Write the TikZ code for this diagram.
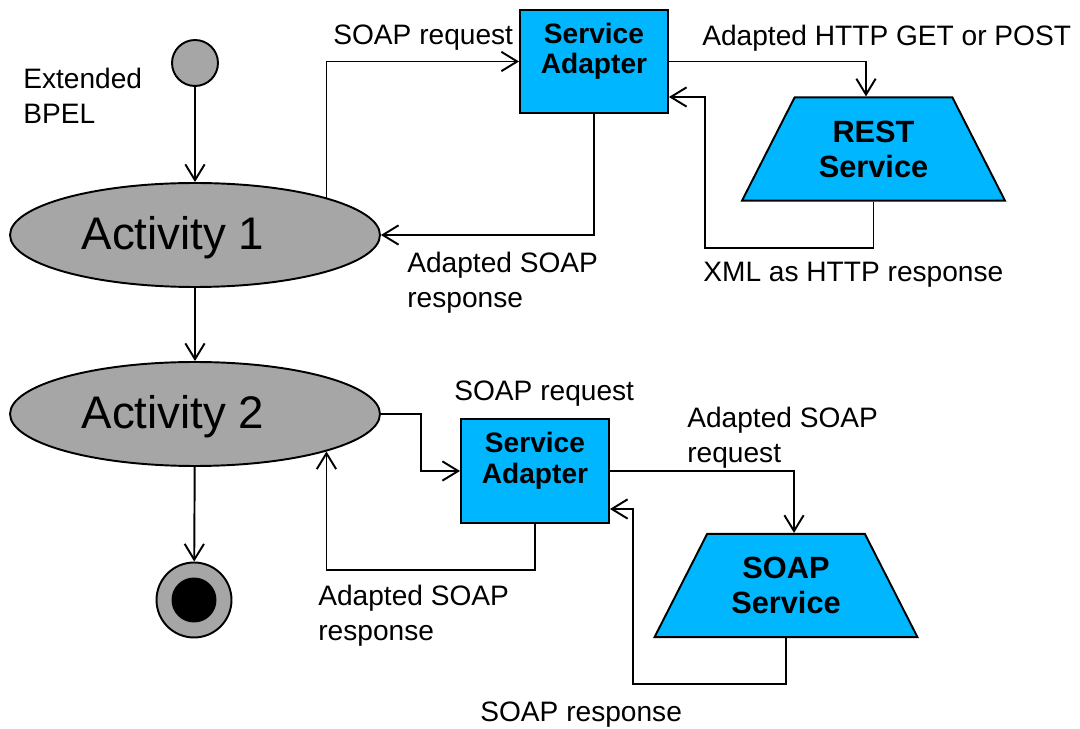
\documentclass[tikz,border=0pt]{standalone}
\usepackage{fontspec}
\setmainfont{Liberation Sans}
\usetikzlibrary{arrows.meta,shapes.geometric}
\definecolor{adblue}{RGB}{0,183,255}
\definecolor{actgray}{RGB}{166,166,166}

\begin{document}
\begin{tikzpicture}[x=0.02cm, y=-0.02cm,
    act/.style={draw, ellipse, fill=actgray, line width=1.1pt, minimum width=7.4cm, minimum height=2.08cm, inner sep=0pt},
    acttxt/.style={font=\fontsize{26}{30}\selectfont, xshift=-0.44cm, yshift=-0.05cm, inner sep=0pt},
    adapter/.style={draw, rectangle, fill=adblue, line width=1.1pt, minimum width=2.96cm, minimum height=2.07cm, inner sep=0pt},
    adtxt/.style={anchor=north, yshift=-0.27cm, align=center, inner sep=0pt, font=\fontsize{16}{17.6}\selectfont\bfseries},
    svc/.style={draw, trapezium, trapezium left angle=63, trapezium right angle=63, trapezium stretches body, fill=adblue, line width=1.1pt, minimum width=5.26cm, inner xsep=0pt, inner ysep=13.2pt, align=center, font=\fontsize{17.5}{20}\selectfont\bfseries},
    arr/.style={-{Straight Barb[length=9pt,width=11pt]}, line width=1.1pt},
    lbl/.style={anchor=north west, inner sep=0pt, align=left, font=\fontsize{16}{20}\selectfont}
]
\useasboundingbox (0,0) rectangle (1080,729);

% activities
\node[circle, draw, fill=actgray, line width=1.1pt, minimum size=0.92cm, inner sep=0pt] (start) at (195,63) {};
\node[act, label={[acttxt]center:Activity 1}] (act1) at (195,235) {};
\node[act, label={[acttxt]center:Activity 2}] (act2) at (195,414) {};
\node[circle, draw, fill=actgray, line width=1.1pt, minimum size=1.5cm, inner sep=0pt,
      label={[circle, fill=black, minimum size=0.9cm, inner sep=0pt]center:{}}] (stop) at (194,600) {};

% adapters and services
\node[adapter, label={[adtxt]north:Service\\Adapter}] (sa1) at (594,61.5) {};
\node[adapter, label={[adtxt]north:Service\\Adapter}] (sa2) at (535,471) {};
\node[svc] (rest) at (873.5,149) {REST\\Service};
\node[svc] (soap) at (786,585.5) {SOAP\\Service};

% labels
\node[lbl] (bpel) at (23,68) {Extended\\BPEL};
\node[lbl] (req1) at (333,25) {SOAP request};
\node[lbl] (get) at (702,25) {Adapted HTTP GET or POST};
\node[lbl] (resp1) at (407,252) {Adapted SOAP\\response};
\node[lbl] (xml) at (703,262) {XML as HTTP response};
\node[lbl] (req2) at (454,381) {SOAP request};
\node[lbl] (req3) at (687,407) {Adapted SOAP\\request};
\node[lbl] (resp2) at (318,585) {Adapted SOAP\\response};
\node[lbl] (resp3) at (480,702) {SOAP response};

% flow
\draw[arr] (start) -- (act1);
\draw[arr] (act1) -- (act2);
\draw[arr] (act2) -- (stop);

% first call
\draw[arr] (act1.north east) |- (sa1.west);
\draw[arr] (sa1.east) -| ([xshift=-0.15cm]rest.north);
\draw[arr] (rest.south) -- ++(0,46) -| ([xshift=0.72cm,yshift=-0.71cm]sa1.east) -- ([yshift=-0.71cm]sa1.east);
\draw[arr] (sa1.south) |- (act1.east);

% second call
\draw[arr] (act2.east) -- ++(40,0) |- (sa2.west);
\draw[arr] (sa2.east) -| ([xshift=0.16cm]soap.north);
\draw[arr] (soap.south) -- ++(0,46) -| ([xshift=0.46cm,yshift=-0.76cm]sa2.east) -- ([yshift=-0.76cm]sa2.east);
\draw[arr] (sa2.south) -- ++(0,46) -| (act2.south east);
\end{tikzpicture}
\end{document}
